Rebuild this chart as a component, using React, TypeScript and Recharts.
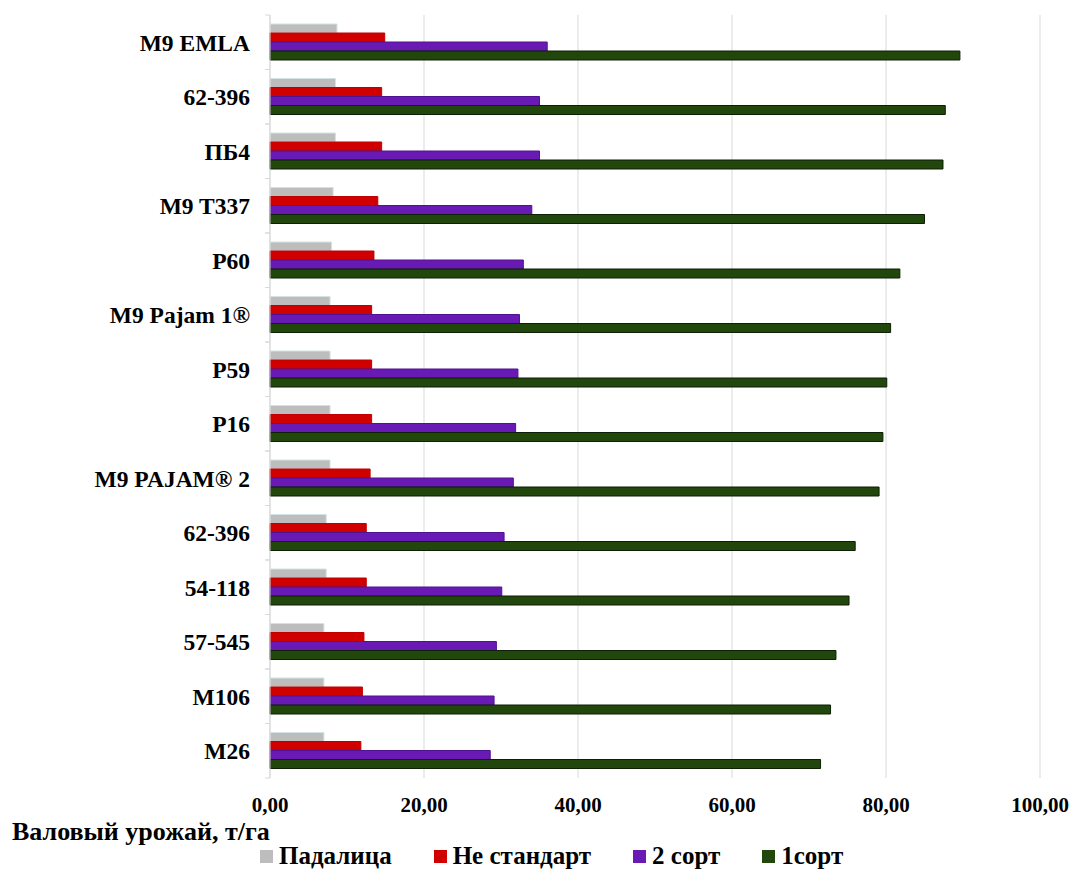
import { BarChart, Bar, XAxis, YAxis, CartesianGrid, Legend } from 'recharts'

const rootstocks = ['M9 EMLA', '62-396', 'ПБ4', 'M9 T337', 'P60', 'M9 Pajam 1®', 'P59', 'P16', 'M9 PAJAM® 2', '62-396', '54-118', '57-545', 'M106', 'M26']
const padalica = [8.7, 8.5, 8.5, 8.2, 8.0, 7.8, 7.8, 7.8, 7.8, 7.3, 7.3, 7.0, 7.0, 7.0]
const nestandart = [14.9, 14.5, 14.5, 14.0, 13.5, 13.2, 13.2, 13.2, 13.0, 12.5, 12.5, 12.2, 12.0, 11.8]
const sort2 = [36.0, 35.0, 35.0, 34.0, 32.9, 32.4, 32.2, 31.9, 31.6, 30.4, 30.1, 29.4, 29.1, 28.6]
const sort1 = [89.6, 87.7, 87.4, 85.0, 81.8, 80.6, 80.1, 79.6, 79.1, 76.0, 75.2, 73.5, 72.8, 71.5]
const xTicks = [0, 20, 40, 60, 80, 100]

const data = rootstocks.map((name, i) => ({
  name,
  padalica: padalica[i],
  nestandart: nestandart[i],
  sort2: sort2[i],
  sort1: sort1[i],
}))

const series = [
  { key: 'padalica', name: 'Падалица', fill: '#bdbdbd', stroke: '#d3e3e3' },
  { key: 'nestandart', name: 'Не стандарт', fill: '#d00000', stroke: '#c00000' },
  { key: 'sort2', name: '2 сорт', fill: '#6a1ab4', stroke: '#4f1290' },
  { key: 'sort1', name: '1сорт', fill: '#22470d', stroke: '#0d1f04' },
]

const FONT = '"Liberation Serif", "Times New Roman", serif'
const CHART_H = 870
const TOP = 15
const BOTTOM_SPACE = 56 + 36

const fmt = (v: number) => v.toFixed(2).replace('.', ',')

// category label plus the small tick marks that sit on the band edges
function YTick(props: any) {
  const { x, y, payload } = props
  const half = (CHART_H - TOP - BOTTOM_SPACE) / rootstocks.length / 2
  const axisX = x + 20
  return (
    <g>
      <line x1={axisX - 5} x2={axisX} y1={y - half} y2={y - half} stroke="#d9d9d9" />
      <line x1={axisX - 5} x2={axisX} y1={y + half} y2={y + half} stroke="#d9d9d9" />
      <text x={x} y={y} dy="0.355em" textAnchor="end" fontFamily={FONT} fontWeight="bold" fontSize={23.5} fill="#000">
        {payload.value}
      </text>
    </g>
  )
}

function LegendBlock() {
  return (
    <div style={{ fontFamily: FONT, fontWeight: 700, color: '#000', width: 1073 }}>
      <div style={{ fontSize: 26, paddingLeft: 12, height: 26, lineHeight: '26px', whiteSpace: 'nowrap' }}>Валовый урожай, т/га</div>
      <div style={{ display: 'flex', gap: 42, fontSize: 25, height: 22, lineHeight: '22px', paddingLeft: 260, whiteSpace: 'nowrap' }}>
        {series.map(s => (
          <span key={s.key} style={{ display: 'flex', alignItems: 'center', fontFamily: FONT }}>
            <span style={{ width: 13, height: 13, background: s.fill, display: 'inline-block', marginRight: 6 }} />
            {s.name}
          </span>
        ))}
      </div>
    </div>
  )
}

export default function App() {
  return (
    <div style={{ position: 'fixed', top: 0, left: 0, width: 1073, height: CHART_H, background: '#fff', overflow: 'hidden' }}>
      <BarChart
        width={1073}
        height={CHART_H}
        data={data}
        layout="vertical"
        margin={{ top: TOP, right: 33, left: 0, bottom: 0 }}
        barSize={9}
        barGap={0}
      >
        <CartesianGrid horizontal={false} stroke="#d9d9d9" />
        <XAxis
          type="number"
          domain={[0, 100]}
          ticks={xTicks}
          tickFormatter={fmt}
          axisLine={false}
          tickLine={false}
          tickMargin={13}
          height={36}
          tick={{ fontFamily: FONT, fontWeight: 'bold', fontSize: 21, fill: '#000' }}
        />
        <YAxis
          type="category"
          dataKey="name"
          width={270}
          axisLine={{ stroke: '#d9d9d9' }}
          tickLine={false}
          tickSize={0}
          tickMargin={20}
          tick={<YTick />}
        />
        <Legend
          verticalAlign="bottom"
          height={56}
          wrapperStyle={{ top: 819, left: 0, bottom: 'auto', width: 1073 }}
          content={() => <LegendBlock />}
        />
        {series.map(s => (
          <Bar key={s.key} dataKey={s.key} name={s.name} fill={s.fill} stroke={s.stroke} strokeWidth={1} isAnimationActive={false} />
        ))}
      </BarChart>
    </div>
  )
}
